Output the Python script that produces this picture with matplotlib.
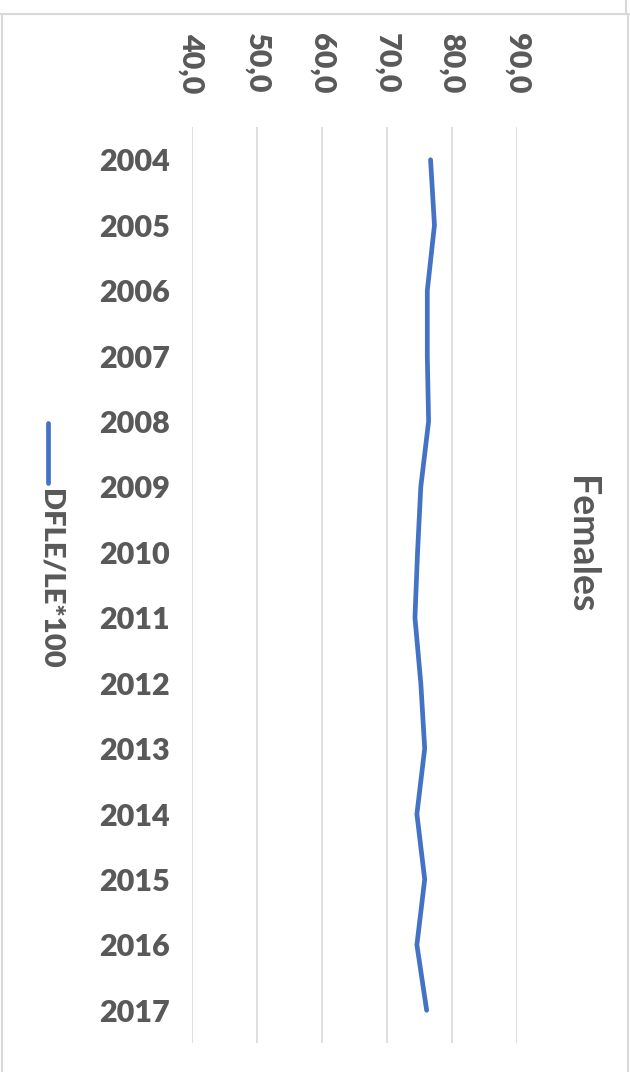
import matplotlib
matplotlib.use('Agg')
import matplotlib.pyplot as plt
from matplotlib.lines import Line2D

years = [2004, 2005, 2006, 2007, 2008, 2009, 2010,
         2011, 2012, 2013, 2014, 2015, 2016, 2017]
dfle_le = [76.7, 77.3, 76.2, 76.2, 76.4, 75.2, 74.7,
           74.3, 75.2, 75.8, 74.6, 75.8, 74.6, 76.1]
value_ticks = [40, 50, 60, 70, 80, 90]
series_name = 'DFLE/LE*100'
title = 'Females'

txt = '#595959'
grid = '#d9d9d9'
blue = '#4472C4'

W, H = 630, 1072
fig = plt.figure(figsize=(W / 100, H / 100), dpi=100)

# plot area in pixels: x 192..517, y 127..1043
ax = fig.add_axes([192 / W, 1 - 1043 / H, 325 / W, 916 / H])
ax.plot(dfle_le, years, color=blue, linewidth=3.4, solid_capstyle='round',
        solid_joinstyle='round', zorder=3)

ax.set_xlim(value_ticks[0], value_ticks[-1])
ax.set_ylim(years[-1] + 0.5, years[0] - 0.5)
ax.set_xticks(value_ticks)
ax.set_xticklabels([f'{v:.1f}'.replace('.', ',') for v in value_ticks])
ax.set_yticks(years)
ax.set_yticklabels([str(y) for y in years])
ax.xaxis.tick_top()
ax.tick_params(axis='x', length=0, pad=24, labelsize=22, labelcolor=txt,
               labelrotation=-90)
ax.tick_params(axis='y', length=0, pad=16, labelsize=22, labelcolor=txt)
for lab in ax.get_xticklabels() + ax.get_yticklabels():
    lab.set_fontfamily('Lato')
    lab.set_fontweight('heavy')
ax.grid(axis='x', color=grid, linewidth=1.2)
ax.set_axisbelow(True)
for s in ax.spines.values():
    s.set_visible(False)

# legend drawn by hand (rotated)
fig.add_artist(Line2D([48 / W, 48 / W], [1 - 423 / H, 1 - 483 / H],
                      color=blue, linewidth=3.4, solid_capstyle='round'))
fig.text(50 / W, 1 - 489 / H, series_name, rotation=-90, ha='center', va='top',
         fontsize=21, fontweight='heavy', color=txt, family='Lato')

fig.text(581 / W, 1 - 545 / H, title, rotation=-90, ha='center', va='center',
         fontsize=27, fontweight='bold', color=txt, family='Lato')

# chart border
bc = grid
fig.add_artist(Line2D([0, 1], [1 - 14 / H, 1 - 14 / H], color=bc, linewidth=1.5))
fig.add_artist(Line2D([1.5 / W, 1.5 / W], [0, 1 - 14 / H], color=bc, linewidth=1.5))
fig.add_artist(Line2D([627.5 / W, 627.5 / W], [0, 1 - 14 / H], color=bc, linewidth=1.5))
fig.add_artist(Line2D([626 / W, 626 / W], [1 - 14 / H, 1], color=bc, linewidth=1.5))

fig.savefig('out.png', dpi=100)
